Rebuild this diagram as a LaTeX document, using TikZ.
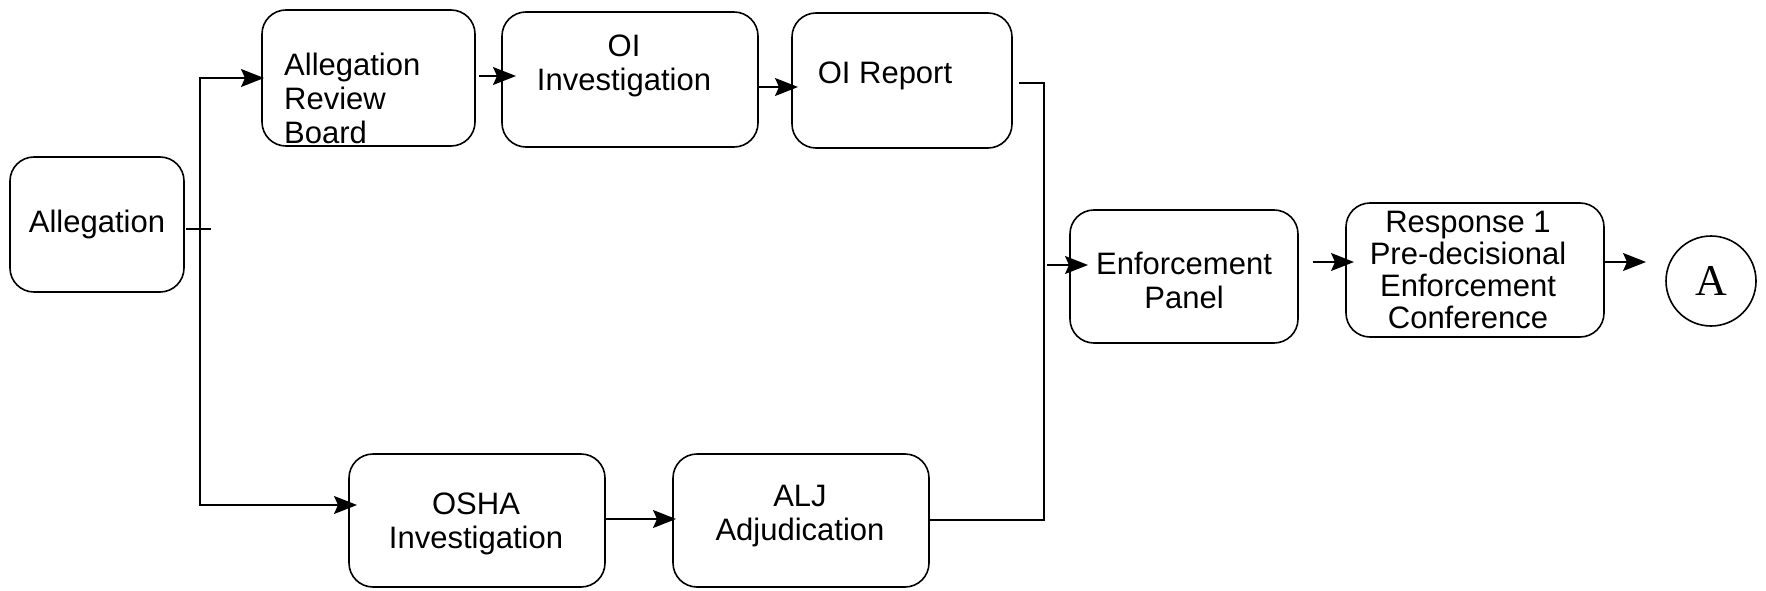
\documentclass[tikz,border=0pt]{standalone}
\usepackage{fontspec}
\newfontfamily\helv{Liberation Sans}
\newfontfamily\tms{Liberation Serif}
\usetikzlibrary{arrows.meta}
\begin{document}
\begin{tikzpicture}[x=1pt,y=-1pt,
 box/.style={draw, line width=1.6pt, rounded corners=24pt, inner sep=0pt, outer sep=0pt},
 txt/.style={font=\helv\fontsize{31}{34}\selectfont, inner sep=0pt, align=center},
 ln/.style={line width=1.6pt},
 arr/.style={ln, -{Stealth[length=23pt,width=18pt,inset=4pt]}}]
\useasboundingbox (0,0) rectangle (1766,591);
\fill[white] (0,0) rectangle (1766,591);
% boxes
\node[box, minimum width=174pt, minimum height=135pt] (alleg) at (97,224.5) {};
\node[box, minimum width=213pt, minimum height=136pt] (arb) at (368.5,78) {};
\node[box, minimum width=256pt, minimum height=135pt] (oiinv) at (630,79.5) {};
\node[box, minimum width=220pt, minimum height=135pt] (oirep) at (902,80.5) {};
\node[box, minimum width=228pt, minimum height=133pt] (ep) at (1184,276.5) {};
\node[box, minimum width=258pt, minimum height=134pt] (r1) at (1475,270) {};
\node[box, minimum width=256pt, minimum height=133pt] (osha) at (477,520.5) {};
\node[box, minimum width=256pt, minimum height=133pt] (alj) at (801,520.5) {};
\node[draw, circle, line width=1.6pt, minimum size=90pt, inner sep=0pt, outer sep=0pt,
      font=\tms\fontsize{44}{48}\selectfont] (A) at (1711,281) {A};
% texts
\node[txt] (tAlleg) at (97,224.8) {Allegation};
\node[txt, align=left, anchor=west] (tArb) at (284,98) {Allegation\\Review\\Board};
\node[txt] (tOiinv) at (624,65.8) {OI\\Investigation};
\node[txt] (tOirep) at (885,75.8) {OI Report};
\node[txt] (tEp) at (1184,280.5) {Enforcement\\Panel};
\node[txt, font=\helv\fontsize{31}{32}\selectfont] (tR1) at (1468,269.5) {Response 1\\Pre-decisional\\Enforcement\\Conference};
\node[txt] (tOsha) at (476,524) {OSHA\\Investigation};
\node[txt] (tAlj) at (800,516) {ALJ\\Adjudication};
% junctions
\coordinate (split) at (200,229);
\coordinate (jtop) at (1044,83);
\coordinate (jmid) at (1044,265);
\coordinate (jbot) at (1044,520);
% connectors
\draw[ln] (alleg.east |- split) ++(2,0) -- ++(25,0);
\draw[arr, shorten >=-2pt] (split) |- (arb.west);
\draw[arr, shorten >=-8pt] (split) |- ([yshift=15.5pt]osha.west);
\draw[arr, shorten >=-14pt] (arb.east |- 0,76) ++(4,0) -- (oiinv.west |- 0,76);
\draw[arr, shorten >=-6pt] (oiinv.east |- 0,87) -- (oirep.west |- 0,87);
\draw[arr, shorten >=-3pt] (osha.east |- 0,519) -- (alj.west |- 0,519);
\draw[ln] (oirep.east |- jtop) ++(7,0) -- (jtop) -- (jbot) -- (alj.east |- jbot);
\draw[arr, shorten >=-18pt] (jmid) ++(3,0) -- (ep.west |- jmid);
\draw[arr, shorten >=-8pt] (ep.east |- 0,262) ++(15,0) -- (r1.west |- 0,262);
\draw[arr] (r1.east |- 0,262) -- (1646,262);
\end{tikzpicture}
\end{document}
